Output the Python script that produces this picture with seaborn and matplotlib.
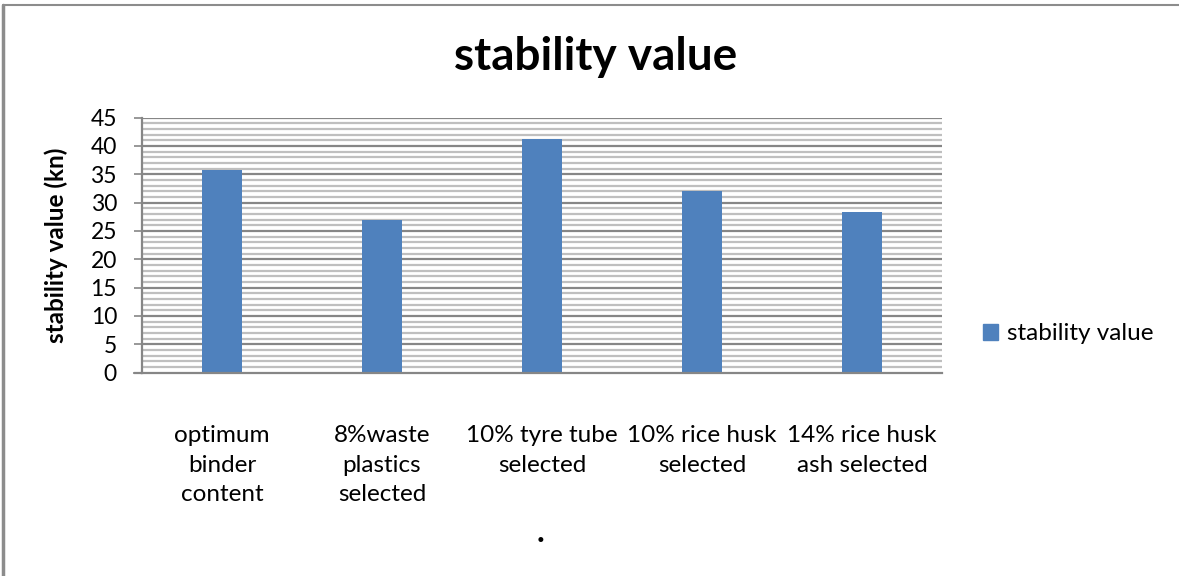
import matplotlib
matplotlib.use("Agg")
import matplotlib.pyplot as plt
from matplotlib.patches import Rectangle
from matplotlib.lines import Line2D
import seaborn as sns
import pandas as pd
import numpy as np

categories = [
    "optimum\nbinder\ncontent",
    "8%waste\nplastics\nselected",
    "10% tyre tube\nselected",
    "10% rice husk\nselected",
    "14% rice husk\nash selected",
]
stability = [35.7, 26.9, 41.2, 32.0, 28.4]
y_ticks = [0, 5, 10, 15, 20, 25, 30, 35, 40, 45]
series_name = "stability value"

sns.set_theme(style="white")
plt.rcParams["font.family"] = ["Lato", "DejaVu Sans"]
plt.rcParams["text.color"] = "black"
plt.rcParams["xtick.color"] = "black"
plt.rcParams["ytick.color"] = "black"
plt.rcParams["axes.labelcolor"] = "black"

df = pd.DataFrame({"category": categories, "value": stability})

fig = plt.figure(figsize=(11.79, 5.76), dpi=100)
ax = fig.add_axes([142 / 1179, 1 - 372.5 / 576, 800 / 1179, 255 / 576])

sns.barplot(data=df, x="category", y="value", color="#4F81BD", width=0.25,
            saturation=1, ax=ax, zorder=3, linewidth=0, edgecolor="none")

ax.set_ylim(0, 45)
ax.set_xlim(-0.5, len(categories) - 0.5)

# minor gridlines every unit, major every five
for v in np.arange(1, 46):
    if v % 5 == 0:
        ax.axhline(v, color="#868686", lw=1.6, zorder=1)
    else:
        ax.axhline(v, color="#BFBFBF", lw=1.6, zorder=1)

ax.set_yticks(y_ticks)
ax.set_yticklabels([str(t) for t in y_ticks], fontsize=16.5)
ax.tick_params(axis="y", length=6, width=1.2, color="#868686", pad=12, left=True)
ax.tick_params(axis="x", length=0, pad=38)
ax.set_xticks(range(len(categories)))
ax.set_xticklabels(categories, fontsize=17.5, linespacing=1.5)
ax.set_xlabel("")
ax.set_ylabel("stability value (kn)", fontsize=17.5, fontweight="bold", labelpad=16)

for side in ["top", "right"]:
    ax.spines[side].set_visible(False)
ax.spines["left"].set_color("#868686")
ax.spines["left"].set_linewidth(1.6)
ax.spines["bottom"].set_color("#868686")
ax.spines["bottom"].set_linewidth(1.6)
ax.spines["bottom"].set_zorder(4)

# x-axis line extends slightly past the y-axis
ax.plot([-0.5 - 8 / 160, -0.5], [0, 0], color="#868686", lw=1.6,
        clip_on=False, zorder=4)

fig.text(596 / 1179, 1 - 57 / 576, "stability value", fontsize=33,
         fontweight="bold", ha="center", va="center")

handle = Rectangle((0, 0), 1, 1, color="#4F81BD")
fig.legend([handle], [series_name], loc="center left",
           bbox_to_anchor=(983 / 1179, 1 - 334 / 576), frameon=False,
           fontsize=17.5, handlelength=0.6, handleheight=0.6,
           handletextpad=0.4, borderaxespad=0, borderpad=0)

fig.text(541 / 1179, 1 - 532 / 576, ".", fontsize=24, fontweight="bold",
         ha="center", va="center")

# outer chart frame
fig.add_artist(Line2D([3 / 1179, 3 / 1179], [0, 1 - 5 / 576],
                      transform=fig.transFigure, color="#8C8C8C", lw=2.5))
fig.add_artist(Line2D([3 / 1179, 1], [1 - 5 / 576, 1 - 5 / 576],
                      transform=fig.transFigure, color="#8C8C8C", lw=1.5))

fig.savefig("out.png", dpi=100)
